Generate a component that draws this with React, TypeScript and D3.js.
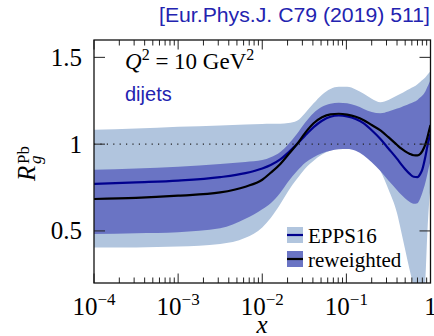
import React from "react";
import * as d3 from "d3";

// Gluon nuclear modification R_g^Pb at Q^2 = 10 GeV^2
const xGrid = [0.0001, 0.000316, 0.001, 0.00316, 0.00631, 0.01, 0.0126, 0.0164, 0.0204, 0.0259, 0.0324, 0.0408, 0.0513, 0.0646, 0.0813, 0.102, 0.129, 0.161, 0.2, 0.254, 0.316, 0.401, 0.447, 0.501, 0.562, 0.631, 0.7, 0.759, 0.8, 0.871, 0.92, 0.959, 1];

// EPPS16 central value and uncertainty band
const eppsMid = [0.771, 0.78, 0.79, 0.81, 0.833, 0.86, 0.88, 0.912, 0.952, 1.0, 1.05, 1.098, 1.135, 1.158, 1.165, 1.16, 1.145, 1.12, 1.08, 1.03, 0.975, 0.915, 0.885, 0.855, 0.83, 0.812, 0.81, 0.83, 0.855, 0.93, 0.99, 1.03, 1.06];
const eppsHi = [1.083, 1.09, 1.1, 1.108, 1.113, 1.116, 1.117, 1.118, 1.122, 1.135, 1.18, 1.235, 1.285, 1.318, 1.33, 1.33, 1.315, 1.29, 1.262, 1.242, 1.255, 1.28, 1.292, 1.305, 1.318, 1.33, 1.345, 1.36, 1.37, 1.385, 1.4, 1.41, 1.42];
const eppsLo = [0.404, 0.405, 0.41, 0.425, 0.46, 0.52, 0.575, 0.655, 0.73, 0.8, 0.86, 0.905, 0.94, 0.963, 0.975, 0.977, 0.97, 0.95, 0.91, 0.845, 0.74, 0.6, 0.5, 0.39, 0.28, 0.18, 0.1, 0.06, 0.1, 0.22, 0.5, 0.65, 0.75];

// Reweighted with dijet data
const rwMid = [0.684, 0.69, 0.703, 0.722, 0.755, 0.795, 0.835, 0.886, 0.94, 1.0, 1.065, 1.12, 1.155, 1.172, 1.175, 1.17, 1.158, 1.138, 1.11, 1.079, 1.04, 0.995, 0.975, 0.958, 0.945, 0.936, 0.935, 0.945, 0.96, 1.0, 1.04, 1.075, 1.11];
const rwHi = [0.852, 0.86, 0.87, 0.885, 0.897, 0.908, 0.925, 0.955, 1.0, 1.06, 1.125, 1.18, 1.215, 1.232, 1.238, 1.235, 1.222, 1.203, 1.185, 1.178, 1.188, 1.205, 1.213, 1.222, 1.232, 1.243, 1.255, 1.27, 1.28, 1.305, 1.33, 1.35, 1.37];
const rwLo = [0.482, 0.487, 0.493, 0.515, 0.57, 0.625, 0.66, 0.72, 0.785, 0.845, 0.893, 0.925, 0.948, 0.962, 0.97, 0.972, 0.962, 0.935, 0.895, 0.845, 0.79, 0.735, 0.71, 0.687, 0.668, 0.657, 0.66, 0.69, 0.72, 0.78, 0.83, 0.87, 0.9];

const xMajorExps = [-4, -3, -2, -1, 0];
const yTickValues = [0.5, 1, 1.5];
const legendLabels = ["EPPS16", "reweighted"];

const W = 434;
const H = 336;
const L = 94, R = 430.5, T = 40, B = 283;

const LIGHT = "#b1c5de";
const DARK = "#6a74c4";
const BLUE = "#00008e";
const TEXTBLUE = "#2323b0";
const SERIF = "'Liberation Serif', 'Times New Roman', serif";
const SANS = "'Liberation Sans', Arial, sans-serif";

export default function App() {
  const x = d3.scaleLog().domain([1e-4, 1]).range([L, R]);
  const y = d3.scaleLinear().domain([0.2, 1.6]).range([B, T]);

  const idx = xGrid.map((_, i) => i);
  const band = (lo: number[], hi: number[]) =>
    d3.area<number>()
      .x((i) => x(xGrid[i]))
      .y0((i) => y(lo[i]))
      .y1((i) => y(hi[i]))
      .curve(d3.curveMonotoneX)(idx) || "";
  const line = (v: number[]) =>
    d3.line<number>()
      .x((i) => x(xGrid[i]))
      .y((i) => y(v[i]))
      .curve(d3.curveMonotoneX)(idx) || "";

  const minorTicks: number[] = [];
  for (let e = -4; e < 0; e++) {
    for (let j = 2; j <= 9; j++) minorTicks.push(j * Math.pow(10, e));
  }
  const majorTicks = xMajorExps.map((e) => Math.pow(10, e));

  return (
    <svg width={W} height={H} style={{ position: "absolute", left: 0, top: 0 }}>
      <defs>
        <clipPath id="plotArea">
          <rect x={L} y={T} width={R - L} height={B - T} />
        </clipPath>
      </defs>
      <rect x={0} y={0} width={W} height={H} fill="#fff" />

      <g clipPath="url(#plotArea)">
        <path d={band(eppsLo, eppsHi)} fill={LIGHT} />
        <path d={band(rwLo, rwHi)} fill={DARK} />
        <line x1={L} x2={R} y1={y(1)} y2={y(1)} stroke="#222" strokeWidth={1.2} strokeDasharray="1.2 5.2" />
        <path d={line(eppsMid)} fill="none" stroke={BLUE} strokeWidth={2.2} />
        <path d={line(rwMid)} fill="none" stroke="#000" strokeWidth={2.2} />
      </g>

      {/* ticks */}
      <g stroke="#222" strokeWidth={1}>
        {majorTicks.map((t, i) => (
          <g key={"M" + i}>
            <line x1={x(t)} x2={x(t)} y1={B} y2={B - 9.5} />
            <line x1={x(t)} x2={x(t)} y1={T} y2={T + 9.5} />
          </g>
        ))}
        {minorTicks.map((t, i) => (
          <g key={"m" + i}>
            <line x1={x(t)} x2={x(t)} y1={B} y2={B - 5.5} />
            <line x1={x(t)} x2={x(t)} y1={T} y2={T + 5.5} />
          </g>
        ))}
        {yTickValues.map((v, i) => (
          <g key={"y" + i}>
            <line x1={L} x2={L + 11} y1={y(v)} y2={y(v)} />
            <line x1={R} x2={R - 11} y1={y(v)} y2={y(v)} />
          </g>
        ))}
      </g>

      <rect x={L} y={T} width={R - L} height={B - T} fill="none" stroke="#111" strokeWidth={1.3} />

      {/* x tick labels */}
      {xMajorExps.map((e, i) => (
        <text key={"xl" + i} x={x(majorTicks[i])} y={315} fontFamily={SERIF} fontSize={25} textAnchor="middle" fill="#000">
          {e === 0 ? "1" : (
            <>
              <tspan>10</tspan>
              <tspan dy={-10} fontSize={17}>{"\u2212" + Math.abs(e)}</tspan>
            </>
          )}
        </text>
      ))}

      {/* y tick labels */}
      {yTickValues.map((v, i) => (
        <text key={"yl" + i} x={82} y={y(v) + 8.5} fontFamily={SERIF} fontSize={25} textAnchor="end" fill="#000">
          {String(v)}
        </text>
      ))}

      {/* axis titles */}
      <text x={262} y={333} fontFamily={SERIF} fontSize={25} fontStyle="italic" textAnchor="middle">x</text>
      <g transform="translate(35,181) rotate(-90)" fontFamily={SERIF}>
        <text x={0} y={0} fontSize={25} fontStyle="italic">R</text>
        <text x={17} y={-6} fontSize={17}>Pb</text>
        <text x={17} y={6} fontSize={17} fontStyle="italic">g</text>
      </g>

      {/* annotations */}
      <text x={430} y={22} fontFamily={SANS} fontSize={20} textAnchor="end" fill={TEXTBLUE}
        textLength={271} lengthAdjust="spacingAndGlyphs">
        [Eur.Phys.J. C79 (2019) 511]
      </text>
      <text x={125} y={69} fontFamily={SERIF} fontSize={23} fill="#000">
        <tspan fontStyle="italic">Q</tspan>
        <tspan dy={-9} fontSize={16}>2</tspan>
        <tspan dy={9}>{" = 10 GeV"}</tspan>
        <tspan dy={-9} fontSize={16}>2</tspan>
      </text>
      <text x={125} y={101} fontFamily={SANS} fontSize={20} fill={TEXTBLUE}>dijets</text>

      {/* legend */}
      {legendLabels.map((lab, i) => (
        <g key={"lg" + i} transform={`translate(287,${227 + i * 24})`}>
          <rect x={0} y={0} width={16} height={16} fill={i === 0 ? LIGHT : DARK} />
          <line x1={0} x2={16} y1={8} y2={8} stroke={i === 0 ? BLUE : "#000"} strokeWidth={2.2} />
          <text x={21} y={16} fontFamily={SERIF} fontSize={21} fill="#000">{lab}</text>
        </g>
      ))}
    </svg>
  );
}
